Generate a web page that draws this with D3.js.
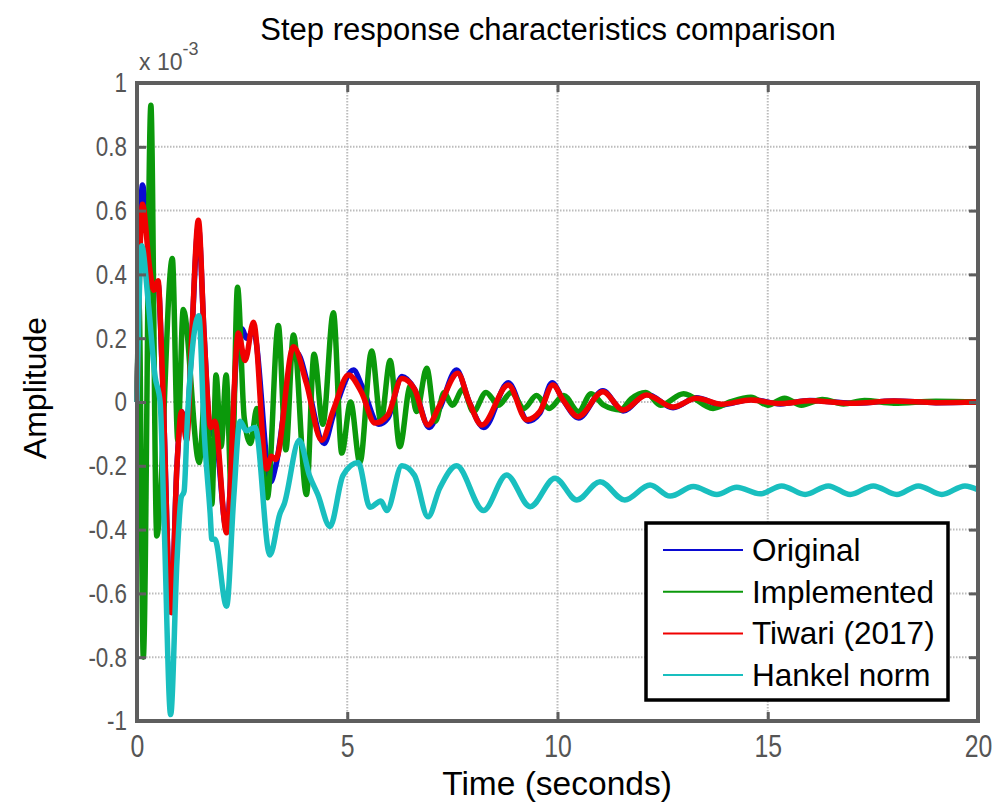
<!DOCTYPE html>
<html>
<head>
<meta charset="utf-8">
<script src="https://cdn.jsdelivr.net/npm/d3@7"></script>
<style>
  body { margin: 0; background: #fff; }
  svg { display: block; }
</style>
</head>
<body>
<div id="chart"></div>
<script>
// Step response curves, amplitude in units of 1e-3
var xTicks = [0, 5, 10, 15, 20];
var yTicks = [-1, -0.8, -0.6, -0.4, -0.2, 0, 0.2, 0.4, 0.6, 0.8, 1];
var seriesNames = ["Original", "Implemented", "Tiwari (2017)", "Hankel norm"];
var seriesColors = ["#0a0ad2", "#0b990b", "#f00000", "#19bfbf"];

var original = [
  [0, 0], [0.13, 0.68], [0.3, 0.44], [0.4, 0.36], [0.5, 0.37], [0.6, 0.1], [0.81, -0.66],
  [0.95, -0.2], [1.06, -0.03], [1.18, -0.1], [1.3, 0.2], [1.46, 0.55], [1.6, 0.2],
  [1.75, -0.1], [1.85, -0.1], [2.13, -0.40], [2.4, 0.2], [2.5, 0.23], [2.6, 0.2],
  [2.77, 0.22], [3.18, -0.25], [3.3, -0.2], [3.75, 0.16], [3.88, 0.14], [4.03, 0.07],
  [4.45, -0.13], [4.67, -0.04], [5.15, 0.1], [5.35, 0.05], [5.75, -0.07], [5.97, -0.05],
  [6.3, 0.08], [6.6, 0.04], [6.95, -0.08], [7.2, -0.02], [7.6, 0.1], [7.9, 0.0],
  [8.25, -0.08], [8.83, 0.06], [9.3, -0.06], [9.58, -0.035], [9.87, 0.06], [10.14, 0.005],
  [10.5, -0.05], [11.08, 0.035], [11.56, -0.028], [12.12, 0.024], [12.75, -0.018],
  [13.3, 0.013], [13.9, -0.009], [14.6, 0.008], [15.3, -0.006], [16, 0.005], [17, -0.004],
  [18, 0.003], [19, -0.002], [20, 0]
];

var implemented = [
  [0, 0], [0.05, 0.3], [0.15, -0.80], [0.33, 0.93], [0.47, -0.42], [0.84, 0.45],
  [0.97, -0.12], [1.1, 0.29], [1.48, -0.19], [1.63, 0.05], [1.78, -0.32], [1.88, 0.085],
  [2.0, -0.14], [2.12, 0.085], [2.25, -0.3], [2.39, 0.36], [2.55, -0.05], [2.7, -0.13],
  [2.85, -0.02], [3.1, -0.30], [3.36, 0.24], [3.54, -0.15], [3.72, 0.21], [4.03, -0.29],
  [4.21, 0.15], [4.42, -0.07], [4.67, 0.28], [4.87, -0.16], [5.08, 0.0], [5.3, -0.19],
  [5.58, 0.16], [5.8, -0.06], [6.02, 0.13], [6.25, -0.14], [6.5, 0.05], [6.65, -0.03],
  [6.89, 0.106], [7.1, -0.06], [7.3, 0.03], [7.5, -0.01], [7.75, 0.04], [8.0, -0.03],
  [8.3, 0.03], [8.6, -0.01], [8.9, 0.03], [9.2, -0.02], [9.5, 0.02], [9.8, -0.02],
  [10.15, 0.02], [10.5, -0.03], [10.8, 0.026], [11.1, -0.01], [11.5, -0.025], [11.75, 0.01],
  [12.1, 0.03], [12.45, -0.01], [13.0, 0.026], [13.7, -0.02], [14.1, 0.0], [14.6, 0.015],
  [15.0, -0.01], [15.4, 0.012], [15.8, -0.01], [16.3, 0.008], [16.8, -0.006], [17.3, 0.005],
  [18, -0.004], [19, 0.002], [20, 0]
];

var tiwari = [
  [0, 0], [0.13, 0.62], [0.3, 0.42], [0.4, 0.35], [0.5, 0.38], [0.6, 0.1], [0.81, -0.66],
  [0.95, -0.2], [1.06, -0.03], [1.18, -0.12], [1.3, 0.2], [1.46, 0.57], [1.6, 0.2],
  [1.75, -0.08], [1.85, -0.06], [2.13, -0.41], [2.41, 0.216], [2.57, 0.13], [2.77, 0.25],
  [3.08, -0.21], [3.2, -0.17], [3.3, -0.18], [3.72, 0.173], [4.03, 0.058], [4.39, -0.12],
  [4.67, -0.025], [5.03, 0.085], [5.34, 0.03], [5.66, -0.066], [5.97, -0.04], [6.3, 0.074],
  [6.6, 0.04], [6.92, -0.072], [7.2, -0.01], [7.63, 0.09], [7.9, 0.0], [8.2, -0.072],
  [8.83, 0.053], [9.27, -0.056], [9.58, -0.03], [9.89, 0.053], [10.14, 0.005],
  [10.49, -0.046], [11.08, 0.032], [11.56, -0.025], [12.12, 0.022], [12.75, -0.016],
  [13.3, 0.012], [13.9, -0.007], [14.6, 0.006], [15.3, -0.005], [16, 0.004], [17, -0.004],
  [18, 0.003], [19, -0.002], [20, 0]
];

var hankel = [
  [0, 0], [0.11, 0.49], [0.27, 0.31], [0.43, 0.08], [0.55, 0.0], [0.65, -0.4], [0.8, -0.98],
  [0.95, -0.5], [1.05, -0.3], [1.12, -0.28], [1.2, -0.05], [1.47, 0.27], [1.6, -0.1],
  [1.74, -0.35], [1.78, -0.43], [1.85, -0.43], [2.13, -0.64], [2.3, -0.3], [2.45, -0.06],
  [2.6, -0.09], [2.81, -0.08], [3.16, -0.48], [3.4, -0.35], [3.5, -0.32], [3.86, -0.12],
  [4.1, -0.23], [4.3, -0.29], [4.59, -0.39], [4.9, -0.23], [5.26, -0.19], [5.54, -0.33],
  [5.8, -0.31], [5.94, -0.34], [6.3, -0.20], [6.6, -0.23], [6.92, -0.36], [7.2, -0.27],
  [7.6, -0.20], [8.24, -0.34], [8.79, -0.229], [9.35, -0.328], [9.94, -0.239],
  [10.46, -0.307], [11.01, -0.25], [11.6, -0.307], [12.2, -0.26], [12.68, -0.295],
  [13.23, -0.265], [13.79, -0.29], [14.26, -0.267], [14.82, -0.288], [15.33, -0.263],
  [15.89, -0.29], [16.44, -0.263], [16.96, -0.29], [17.51, -0.263], [18.07, -0.29],
  [18.58, -0.263], [19.14, -0.29], [19.69, -0.263], [20, -0.275]
];

var allSeries = [original, implemented, tiwari, hankel];

// Layout
var width = 1000, height = 805;
var plotLeft = 137, plotRight = 978, plotTop = 83, plotBottom = 721;
var fontFamily = "'Liberation Sans', Arial, sans-serif";
var axisGray = "#5e5e5e";

var x = d3.scaleLinear().domain([0, 20]).range([plotLeft, plotRight]);
var y = d3.scaleLinear().domain([-1, 1]).range([plotBottom, plotTop]);

var svg = d3.select("#chart").append("svg")
  .attr("width", width)
  .attr("height", height)
  .style("font-family", fontFamily);

// squeeze a text horizontally, the figure uses a condensed face
var condense = function(sel, k) {
  sel.each(function() {
    var w = this.getComputedTextLength();
    d3.select(this).attr("textLength", w * k).attr("lengthAdjust", "spacingAndGlyphs");
  });
};

// grid
svg.append("g").selectAll("line")
  .data(xTicks.slice(1, -1))
  .enter().append("line")
  .attr("x1", function(d) { return x(d); }).attr("x2", function(d) { return x(d); })
  .attr("y1", plotTop).attr("y2", plotBottom)
  .attr("stroke", "#bcbcbc").attr("stroke-width", 2)
  .attr("stroke-dasharray", "1.5,1.5");

svg.append("g").selectAll("line")
  .data(yTicks.slice(1, -1))
  .enter().append("line")
  .attr("x1", plotLeft).attr("x2", plotRight)
  .attr("y1", function(d) { return y(d); }).attr("y2", function(d) { return y(d); })
  .attr("stroke", "#bcbcbc").attr("stroke-width", 2)
  .attr("stroke-dasharray", "1.5,1.5");

// curves
var line = d3.line()
  .x(function(d) { return x(d[0]); })
  .y(function(d) { return y(d[1]); })
  .curve(d3.curveMonotoneX);

svg.append("g").selectAll("path")
  .data(allSeries)
  .enter().append("path")
  .attr("d", line)
  .attr("fill", "none")
  .attr("stroke", function(d, i) { return seriesColors[i]; })
  .attr("stroke-width", 5.5)
  .attr("stroke-linejoin", "round");

// axes (ticks point inward, box on all sides)
function styleAxis(g) {
  g.select(".domain").remove();
  g.selectAll(".tick line").attr("stroke", axisGray).attr("stroke-width", 3);
  g.selectAll(".tick text")
    .attr("fill", "#555")
    .style("font-family", fontFamily);
}

// plain hyphen for negatives, like the figure
var fmt = function(d) { return String(+d.toFixed(1)); };

svg.append("g")
  .attr("transform", "translate(0," + plotBottom + ")")
  .call(d3.axisBottom(x).tickValues(xTicks).tickSize(-9).tickPadding(14).tickFormat(fmt))
  .call(styleAxis)
  .selectAll(".tick text").style("font-size", "31px").call(condense, 0.8);

svg.append("g")
  .attr("transform", "translate(0," + plotTop + ")")
  .call(d3.axisTop(x).tickValues(xTicks).tickSize(-9).tickFormat(""))
  .call(styleAxis);

svg.append("g")
  .attr("transform", "translate(" + plotLeft + ",0)")
  .call(d3.axisLeft(y).tickValues(yTicks).tickSize(-9).tickPadding(10).tickFormat(fmt))
  .call(styleAxis)
  .selectAll(".tick text").style("font-size", "28px").call(condense, 0.8);

svg.append("g")
  .attr("transform", "translate(" + plotRight + ",0)")
  .call(d3.axisRight(y).tickValues(yTicks).tickSize(-9).tickFormat(""))
  .call(styleAxis);

svg.append("rect")
  .attr("x", plotLeft).attr("y", plotTop)
  .attr("width", plotRight - plotLeft).attr("height", plotBottom - plotTop)
  .attr("fill", "none")
  .attr("stroke", axisGray).attr("stroke-width", 4);

// texts
svg.append("text")
  .attr("x", 548).attr("y", 40)
  .attr("text-anchor", "middle")
  .style("font-size", "31px")
  .text("Step response characteristics comparison");

// axis exponent, one text with a raised tspan
var expo = svg.append("text")
  .attr("x", 139).attr("y", 70)
  .attr("fill", "#555")
  .style("font-size", "23px");
expo.append("tspan").text("x 10");
expo.append("tspan").attr("dy", -15).style("font-size", "18px").text("-3");

svg.append("text")
  .attr("x", 557).attr("y", 795)
  .attr("text-anchor", "middle")
  .style("font-size", "33.5px")
  .text("Time (seconds)");

svg.append("text")
  .attr("transform", "translate(46,388) rotate(-90)")
  .attr("text-anchor", "middle")
  .style("font-size", "32px")
  .text("Amplitude");

// legend
var legend = svg.append("g");
legend.append("rect")
  .attr("x", 646).attr("y", 523)
  .attr("width", 302).attr("height", 177)
  .attr("fill", "#fff")
  .attr("stroke", "#000").attr("stroke-width", 3.5);

var rows = legend.selectAll("g.row")
  .data(seriesNames)
  .enter().append("g")
  .attr("class", "row")
  .attr("transform", function(d, i) { return "translate(0," + (550 + i * 41.7) + ")"; });

rows.append("line")
  .attr("x1", 663).attr("x2", 743)
  .attr("stroke", function(d, i) { return seriesColors[i]; })
  .attr("stroke-width", 2);

rows.append("text")
  .attr("x", 752).attr("y", 11)
  .style("font-size", "31.5px")
  .text(function(d) { return d; });
</script>
</body>
</html>
